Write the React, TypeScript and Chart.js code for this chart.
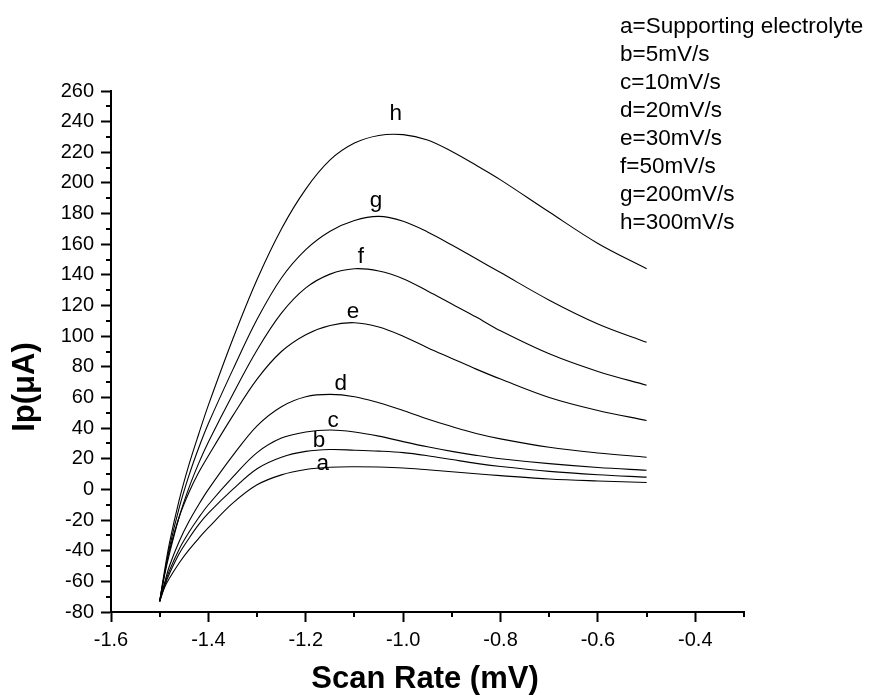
import { useEffect, useRef } from 'react';
import { Chart, registerables } from 'chart.js';

Chart.register(...registerables);

// ---- data ----
const X_VALUES = [-1.5, -1.49, -1.48, -1.46, -1.44, -1.42, -1.4, -1.35, -1.3, -1.25, -1.2, -1.15, -1.1, -1.05, -1.0, -0.95, -0.9, -0.85, -0.8, -0.7, -0.6, -0.5];

const SERIES_A = [-73, -64, -58, -48, -39.5, -32, -25, -9, 3, 9.5, 13, 14.5, 14.8, 14.6, 14, 12.8, 11.5, 10.2, 9, 6.8, 5.5, 4.5];
const SERIES_B = [-73, -63, -55, -42, -32, -23, -15.5, 0, 13.5, 21, 24.8, 26, 25.6, 25, 24, 22, 19.5, 17, 15, 11.8, 9.6, 8];
const SERIES_C = [-73, -62, -53, -39, -28, -18.5, -10, 8, 24, 33.5, 37.5, 38.8, 37.5, 34.8, 31.2, 27.8, 24.8, 22.2, 20, 16.8, 14.3, 12.5];
const SERIES_D = [-73, -61, -50, -34, -21, -10, 0, 22, 41.5, 54, 60.5, 62, 60.5, 56.5, 51.5, 46, 41, 36.5, 33, 27.5, 23.8, 21];
const SERIES_E = [-73, -55, -40, -18, -2, 11, 22, 48, 72, 90, 101, 107, 108.8, 106, 100, 92.5, 85.5, 78.5, 72, 60, 51.5, 45];
const SERIES_F = [-73, -56, -42, -18, 1, 17, 31, 62, 91, 115, 131.5, 140.5, 144, 142.5, 137.5, 129.5, 121, 112.5, 103.5, 88.5, 77, 68];
const SERIES_G = [-73, -55, -38, -12, 9, 27, 43, 78, 111, 138, 156.5, 168.5, 175.5, 178.2, 175, 168, 159.5, 150.5, 141.5, 123.5, 108, 96];
const SERIES_H = [-73, -53, -35, -7, 16, 36, 55, 98, 137, 170, 196, 215, 226, 231, 231.5, 228, 220.5, 211.5, 202, 181, 160.5, 144];

const SERIES = [SERIES_A, SERIES_B, SERIES_C, SERIES_D, SERIES_E, SERIES_F, SERIES_G, SERIES_H];

// curve letters and where they sit (data coordinates)
const CURVE_LETTERS = ['a', 'b', 'c', 'd', 'e', 'f', 'g', 'h'];
const LABEL_X = [-1.165, -1.173, -1.144, -1.128, -1.103, -1.087, -1.056, -1.015];
const LABEL_Y = [12.5, 27.5, 40.6, 64.8, 111.8, 147.7, 184.2, 241];

const LEGEND_LINES = [
  'a=Supporting electrolyte',
  'b=5mV/s',
  'c=10mV/s',
  'd=20mV/s',
  'e=30mV/s',
  'f=50mV/s',
  'g=200mV/s',
  'h=300mV/s',
];

const X_TICKS = [-1.6, -1.4, -1.2, -1.0, -0.8, -0.6, -0.4];
const X_MINOR = [-1.5, -1.3, -1.1, -0.9, -0.7, -0.5, -0.3];
const Y_TICKS = [-80, -60, -40, -20, 0, 20, 40, 60, 80, 100, 120, 140, 160, 180, 200, 220, 240, 260];
const Y_MINOR = [-70, -50, -30, -10, 10, 30, 50, 70, 90, 110, 130, 150, 170, 190, 210, 230, 250];

const X_TITLE = 'Scan Rate (mV)';
const Y_TITLE = 'Ip(μA)';

const FONT = '"Liberation Sans", Arial, Helvetica, sans-serif';

const decorations = {
  id: 'decorations',
  afterDraw(chart: any) {
    const ctx = chart.ctx as CanvasRenderingContext2D;
    const xs = chart.scales.x;
    const ys = chart.scales.y;
    const { left, bottom } = chart.chartArea;
    ctx.save();
    // minor ticks
    ctx.strokeStyle = '#000';
    ctx.lineWidth = 2;
    ctx.beginPath();
    X_MINOR.forEach((v) => {
      const p = Math.round(xs.getPixelForValue(v));
      ctx.moveTo(p, bottom);
      ctx.lineTo(p, bottom + 5);
    });
    Y_MINOR.forEach((v) => {
      const p = Math.round(ys.getPixelForValue(v));
      ctx.moveTo(left - 5, p);
      ctx.lineTo(left, p);
    });
    ctx.stroke();

    ctx.fillStyle = '#000';
    // curve letters
    ctx.font = `22.5px ${FONT}`;
    ctx.textAlign = 'center';
    ctx.textBaseline = 'alphabetic';
    CURVE_LETTERS.forEach((t, i) => {
      ctx.fillText(t, xs.getPixelForValue(LABEL_X[i]), ys.getPixelForValue(LABEL_Y[i]));
    });

    // legend text block
    ctx.textAlign = 'left';
    LEGEND_LINES.forEach((t, i) => {
      ctx.fillText(t, 620, 33 + i * 28);
    });

    // axis titles
    ctx.font = `bold 31px ${FONT}`;
    ctx.textAlign = 'center';
    ctx.fillText(X_TITLE, 425, 688);
    ctx.translate(34, 387);
    ctx.rotate(-Math.PI / 2);
    ctx.fillText(Y_TITLE, 0, 0);
    ctx.restore();
  },
};

export default function App() {
  const ref = useRef<HTMLCanvasElement | null>(null);

  useEffect(() => {
    if (!ref.current) return;
    Chart.defaults.color = '#000';
    Chart.defaults.font.family = FONT;
    const datasets = SERIES.map((s, i) => ({
      label: CURVE_LETTERS[i],
      data: X_VALUES.map((x, j) => ({ x, y: s[j] })),
      borderColor: '#000',
      borderWidth: 1.1,
      pointRadius: 0,
      fill: false,
      tension: 0.35,
    }));
    const chart = new Chart(ref.current, {
      type: 'line',
      data: { datasets },
      options: {
        animation: false,
        responsive: false,
        events: [],
        layout: { padding: { left: 0, right: 129, top: 91, bottom: 0 } },
        plugins: { legend: { display: false }, tooltip: { enabled: false } },
        scales: {
          x: {
            type: 'linear',
            min: -1.6,
            max: -0.3,
            afterBuildTicks: (scale: any) => {
              scale.ticks = X_TICKS.map((v) => ({ value: v }));
            },
            afterFit: (scale: any) => {
              scale.height = 87;
            },
            grid: {
              drawOnChartArea: false,
              drawTicks: true,
              tickLength: 10,
              tickWidth: 2,
              tickColor: '#000',
            },
            border: { display: true, color: '#000', width: 2 },
            ticks: {
              color: '#000',
              font: { size: 20, family: FONT },
              padding: 6,
              maxRotation: 0,
              autoSkip: false,
              callback: (v: any) => Number(v).toFixed(1),
            },
          },
          y: {
            type: 'linear',
            min: -80,
            max: 260,
            afterBuildTicks: (scale: any) => {
              scale.ticks = Y_TICKS.map((v) => ({ value: v }));
            },
            afterFit: (scale: any) => {
              scale.width = 111;
            },
            grid: {
              drawOnChartArea: false,
              drawTicks: true,
              tickLength: 10,
              tickWidth: 2,
              tickColor: '#000',
            },
            border: { display: true, color: '#000', width: 2 },
            ticks: {
              color: '#000',
              font: { size: 20, family: FONT },
              padding: 7,
              autoSkip: false,
              callback: (v: any) => String(Math.round(Number(v))),
            },
          },
        },
      },
      plugins: [decorations],
    });
    return () => chart.destroy();
  }, []);

  return (
    <div style={{ position: 'absolute', left: 0, top: 0, width: 873, height: 699, background: '#fff' }}>
      <canvas ref={ref} width={873} height={699} />
    </div>
  );
}
